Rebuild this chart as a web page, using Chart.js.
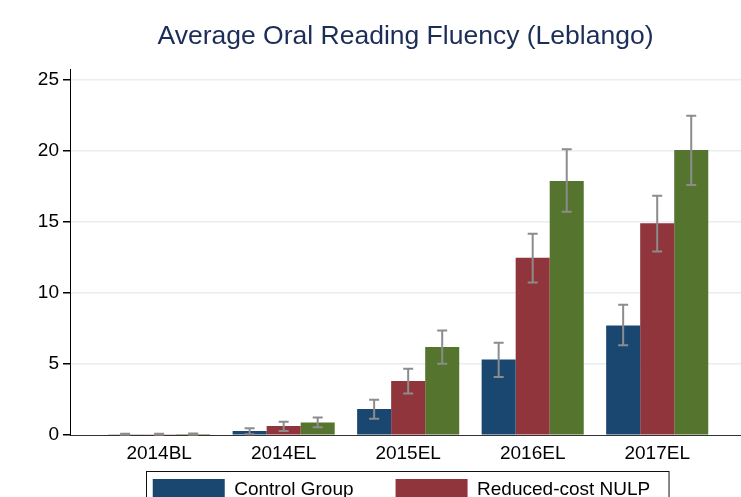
<!DOCTYPE html>
<html>
<head>
<meta charset="utf-8">
<title>Average Oral Reading Fluency (Leblango)</title>
<script src="https://cdn.jsdelivr.net/npm/chart.js@4.4.1/dist/chart.umd.min.js"></script>
<style>
  html, body { margin: 0; padding: 0; overflow: hidden; background: #fff; }
  #wrap { position: relative; width: 741px; height: 610px; }
</style>
</head>
<body>
<div id="wrap"><canvas id="myChart"></canvas></div>
<script>
const categories = ["2014BL", "2014EL", "2015EL", "2016EL", "2017EL"];
const seriesNames = ["Control Group", "Reduced-cost NULP", "Full-cost NULP"];

const control = [0.07, 0.3, 1.85, 5.32, 7.72];
const controlLow = [0.03, 0.07, 1.15, 4.1, 6.32];
const controlHigh = [0.11, 0.49, 2.5, 6.51, 9.18];

const reduced = [0.07, 0.65, 3.81, 12.48, 14.91];
const reducedLow = [0.03, 0.3, 2.93, 10.74, 12.92];
const reducedHigh = [0.11, 0.94, 4.68, 14.16, 16.85];

const full = [0.08, 0.89, 6.2, 17.88, 20.06];
const fullLow = [0.04, 0.56, 5.03, 15.71, 17.6];
const fullHigh = [0.12, 1.24, 7.37, 20.11, 22.47];

const yTicks = [0, 5, 10, 15, 20, 25];

Chart.defaults.font.family = "'Liberation Sans', Arial, Helvetica, sans-serif";
Chart.defaults.color = "#000";

const toPoints = (values) => values.map((v, i) => ({ x: i, y: v }));

// stata-ish error bars drawn on top of each bar
const errorBars = {
  id: "errorBars",
  afterDatasetsDraw(chart) {
    const ctx = chart.ctx;
    const y = chart.scales.y;
    ctx.save();
    ctx.strokeStyle = "#8c8c8c";
    ctx.lineWidth = 2;
    chart.data.datasets.forEach((ds, di) => {
      chart.getDatasetMeta(di).data.forEach((bar, i) => {
        const top = y.getPixelForValue(ds.errHigh[i]);
        const bottom = y.getPixelForValue(ds.errLow[i]);
        ctx.beginPath();
        ctx.moveTo(bar.x, top);
        ctx.lineTo(bar.x, bottom);
        ctx.moveTo(bar.x - 5, top);
        ctx.lineTo(bar.x + 5, top);
        ctx.moveTo(bar.x - 5, bottom);
        ctx.lineTo(bar.x + 5, bottom);
        ctx.stroke();
      });
    });
    ctx.restore();
  },
};

// legend padding is wide (for the horizontal gap), pull it up under the axis labels
const legendFrame = {
  id: "legendFrame",
  afterLayout(chart) {
    const lg = chart.legend;
    const shift = lg.options.labels.padding - 7;
    lg.top -= shift;
    lg.bottom -= shift;
    lg.left -= 4;
    lg.right -= 4;
  },
  afterDraw(chart) {
    const boxes = chart.legend.legendHitBoxes;
    if (!boxes || !boxes.length) return;
    const firstRow = boxes.filter((b) => b.top === boxes[0].top);
    const left = Math.min(...firstRow.map((b) => b.left)) - 7;
    const right = Math.max(...firstRow.map((b) => b.left + b.width)) + 18;
    const top = boxes[0].top - 8;
    const ctx = chart.ctx;
    ctx.save();
    ctx.strokeStyle = "#111";
    ctx.lineWidth = 1;
    ctx.strokeRect(Math.round(left) + 0.5, Math.round(top) + 0.5, right - left, chart.height - top + 20);
    ctx.restore();
  },
};

const data = {
  datasets: [
    {
      label: seriesNames[0],
      data: toPoints(control),
      errLow: controlLow,
      errHigh: controlHigh,
      backgroundColor: "#1a476f",
    },
    {
      label: seriesNames[1],
      data: toPoints(reduced),
      errLow: reducedLow,
      errHigh: reducedHigh,
      backgroundColor: "#90353b",
    },
    {
      label: seriesNames[2],
      data: toPoints(full),
      errLow: fullLow,
      errHigh: fullHigh,
      backgroundColor: "#55752f",
    },
  ],
};

const config = {
  type: "bar",
  data,
  options: {
    responsive: true,
    maintainAspectRatio: false,
    animation: false,
    datasets: {
      bar: { categoryPercentage: 0.82, barPercentage: 1, borderWidth: 0 },
    },
    layout: { padding: 0 },
    plugins: {
      title: {
        display: true,
        text: "Average Oral Reading Fluency (Leblango)",
        color: "#1c2d57",
        fullSize: false,
        font: { size: 26.5, weight: "normal" },
        padding: { top: 21, bottom: 17 },
      },
      legend: {
        position: "bottom",
        fullSize: false,
        labels: {
          boxWidth: 72,
          boxHeight: 22,
          padding: 42,
          color: "#000",
          font: { size: 19 },
        },
      },
      tooltip: { enabled: false },
    },
    scales: {
      x: {
        type: "linear",
        offset: false,
        min: -0.716,
        max: 4.673,
        grid: { display: false, drawTicks: false },
        border: { display: true, color: "#333", width: 1 },
        ticks: {
          stepSize: 1,
          includeBounds: false,
          autoSkip: false,
          maxRotation: 0,
          padding: 7,
          font: { size: 19 },
          callback: (v) => categories[v] ?? "",
        },
        afterBuildTicks: (scale) => {
          scale.ticks = categories.map((c, i) => ({ value: i }));
        },
      },
      y: {
        min: 0,
        max: 25.7,
        grid: {
          color: (c) => (c.tick && c.tick.value === 0 ? "rgba(0,0,0,0)" : "#e6eef1"),
          lineWidth: 1.5,
          tickColor: "#000",
          tickLength: 7,
        },
        border: { display: true, color: "#000", width: 1 },
        ticks: {
          stepSize: 5,
          includeBounds: false,
          padding: 4,
          font: { size: 19 },
        },
        afterBuildTicks: (scale) => {
          scale.ticks = yTicks.map((v) => ({ value: v }));
        },
        afterFit: (scale) => {
          scale.width = 70;
        },
      },
    },
  },
  plugins: [errorBars, legendFrame],
};

let myChart = new Chart(document.getElementById("myChart"), config);
</script>
</body>
</html>
